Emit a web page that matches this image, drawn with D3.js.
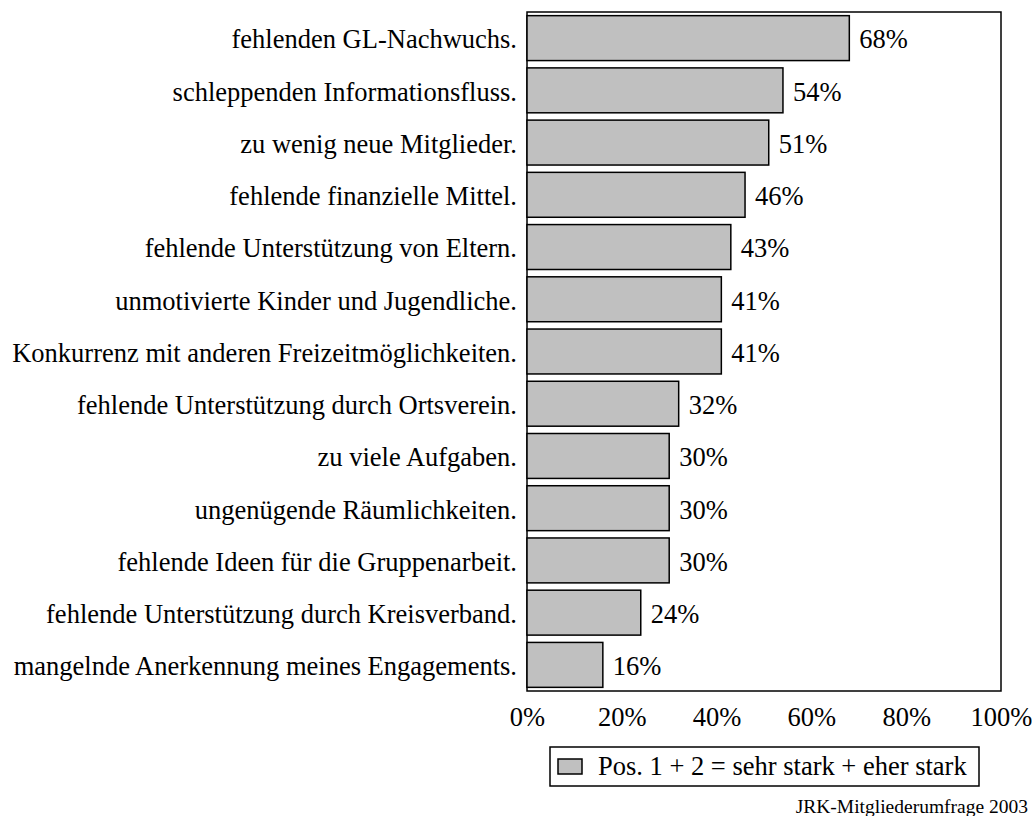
<!DOCTYPE html>
<html>
<head>
<meta charset="utf-8">
<script src="https://cdn.jsdelivr.net/npm/d3@7"></script>
<style>
  body { margin: 0; background: #fff; }
  text { font-family: "Liberation Serif", "Times New Roman", serif; fill: #000; }
</style>
</head>
<body>
<script>
'use strict';

(function() {

  // categories top to bottom
  const categories = [
    "fehlenden GL-Nachwuchs.",
    "schleppenden Informationsfluss.",
    "zu wenig neue Mitglieder.",
    "fehlende finanzielle Mittel.",
    "fehlende Unterstützung von Eltern.",
    "unmotivierte Kinder und Jugendliche.",
    "Konkurrenz mit anderen Freizeitmöglichkeiten.",
    "fehlende Unterstützung durch Ortsverein.",
    "zu viele Aufgaben.",
    "ungenügende Räumlichkeiten.",
    "fehlende Ideen für die Gruppenarbeit.",
    "fehlende Unterstützung durch Kreisverband.",
    "mangelnde Anerkennung meines Engagements."
  ];
  // percent values
  const values = [68, 54, 51, 46, 43, 41, 41, 32, 30, 30, 30, 24, 16];
  const xTicks = [0, 20, 40, 60, 80, 100];
  const legendLabel = "Pos. 1 + 2 = sehr stark + eher stark";
  const sourceNote = "JRK-Mitgliederumfrage 2003";

  let svgContainer = "";
  const fontSize = 26.5;

  window.onload = function() {
    svgContainer = d3.select('body')
      .append('svg')
      .attr('width', 1032)
      .attr('height', 816);
    makePlot();
  }

  function makePlot() {
    let left = 527, right = 1001, top = 12, bottom = 691;

    let xScale = d3.scaleLinear()
      .domain([0, 100])
      .range([left, right]);

    let yScale = d3.scaleBand()
      .domain(categories)
      .range([top, bottom])
      .paddingInner(0.14)
      .paddingOuter(0.07);

    // frame
    svgContainer.append('rect')
      .attr('x', left)
      .attr('y', top)
      .attr('width', right - left)
      .attr('height', bottom - top)
      .style('fill', 'none')
      .style('stroke', '#000')
      .style('stroke-width', 1.5);

    // bars
    svgContainer.selectAll('.bar')
      .data(values)
      .enter().append('rect')
      .attr('class', 'bar')
      .attr('x', xScale(0))
      .attr('y', (d, i) => yScale(categories[i]))
      .attr('width', (d) => xScale(d) - xScale(0))
      .attr('height', yScale.bandwidth())
      .style('fill', '#c0c0c0')
      .style('stroke', '#000')
      .style('stroke-width', 1.5);

    // value labels
    svgContainer.selectAll('.val')
      .data(values)
      .enter().append('text')
      .attr('class', 'val')
      .attr('x', (d) => xScale(d) + 10)
      .attr('y', (d, i) => yScale(categories[i]) + yScale.bandwidth() / 2)
      .attr('dy', '0.39em')
      .style('font-size', fontSize + 'px')
      .text((d) => d + '%');

    // category labels
    svgContainer.selectAll('.cat')
      .data(categories)
      .enter().append('text')
      .attr('class', 'cat')
      .attr('x', left - 10)
      .attr('y', (d) => yScale(d) + yScale.bandwidth() / 2)
      .attr('dy', '0.39em')
      .attr('text-anchor', 'end')
      .style('font-size', fontSize + 'px')
      .text((d) => d);

    // x axis labels (no tick lines)
    let xAxis = d3.axisBottom(xScale)
      .tickValues(xTicks)
      .tickFormat((d) => d + '%')
      .tickSize(0)
      .tickPadding(0);
    let gx = svgContainer.append('g')
      .attr('transform', 'translate(0,707)')
      .call(xAxis);
    gx.select('.domain').remove();
    gx.selectAll('text')
      .style('font-family', '"Liberation Serif", "Times New Roman", serif')
      .style('font-size', fontSize + 'px')
      .attr('fill', '#000');

    makeLegend();

    svgContainer.append('text')
      .attr('x', 1028)
      .attr('y', 813)
      .attr('text-anchor', 'end')
      .style('font-size', '19.5px')
      .text(sourceNote);
  }

  function makeLegend() {
    let lg = svgContainer.append('g')
      .attr('transform', 'translate(550,747)');
    lg.append('rect')
      .attr('width', 429)
      .attr('height', 39)
      .style('fill', '#fff')
      .style('stroke', '#000')
      .style('stroke-width', 1.5);
    lg.append('rect')
      .attr('x', 8)
      .attr('y', 12)
      .attr('width', 24)
      .attr('height', 15)
      .style('fill', '#c0c0c0')
      .style('stroke', '#000')
      .style('stroke-width', 1.5);
    lg.append('text')
      .attr('x', 48)
      .attr('y', 28)
      .style('font-size', fontSize + 'px')
      .text(legendLabel);
  }

})();
</script>
</body>
</html>
